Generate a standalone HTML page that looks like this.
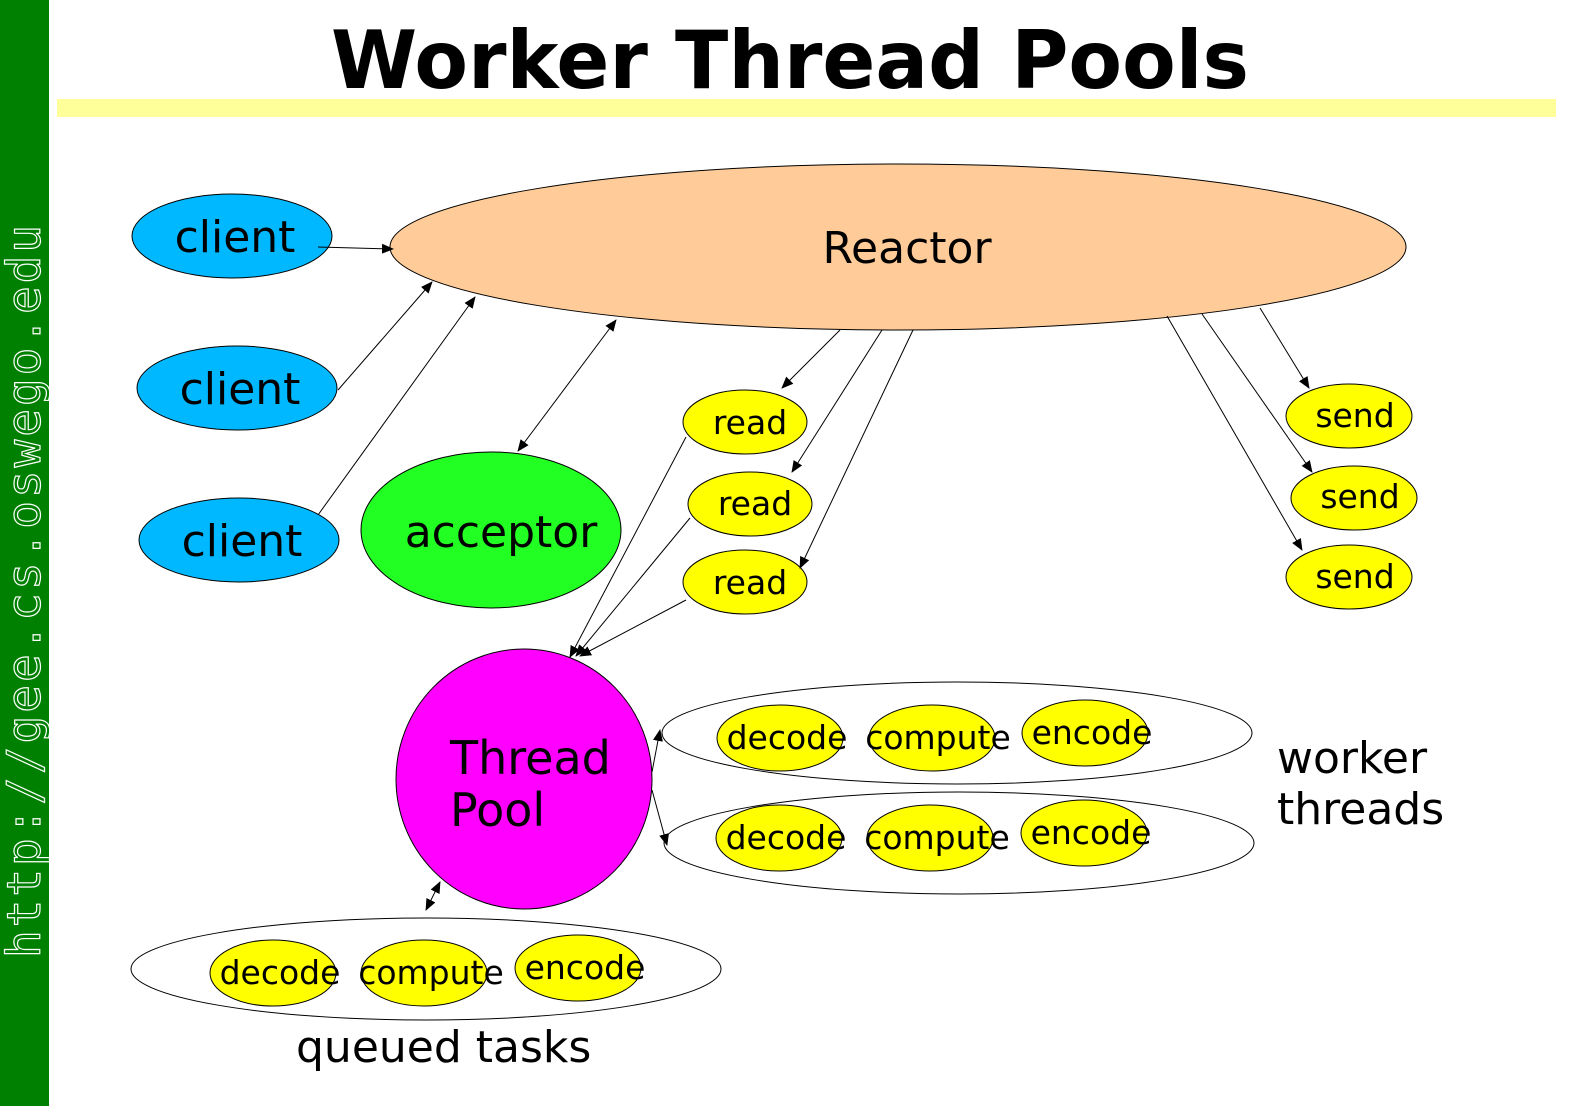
<!DOCTYPE html>
<html><head><style>body{margin:0;background:#fff}svg{display:block}</style></head><body>
<svg width="1576" height="1106" viewBox="0 0 1576 1106" xmlns="http://www.w3.org/2000/svg" font-family="DejaVu Sans, Liberation Sans, sans-serif">
<defs><marker id="a" markerWidth="12" markerHeight="10" refX="11" refY="5" orient="auto" markerUnits="userSpaceOnUse"><path d="M0,0L12,5L0,10z" fill="#000"/></marker>
<marker id="b" markerWidth="12" markerHeight="10" refX="1" refY="5" orient="auto" markerUnits="userSpaceOnUse"><path d="M12,0L0,5L12,10z" fill="#000"/></marker></defs>
<rect x="0" y="0" width="49" height="1106" fill="#008000"/>
<text transform="translate(40,958) rotate(-90)" font-family="DejaVu Sans Mono, Liberation Mono, monospace" font-size="46" fill="none" stroke="#fff" stroke-width="1.2" textLength="733" lengthAdjust="spacing">http://gee.cs.oswego.edu</text>
<text x="790" y="88" text-anchor="middle" font-size="80" font-weight="bold" textLength="918" lengthAdjust="spacingAndGlyphs">Worker Thread Pools</text>
<rect x="57" y="99" width="1499" height="18" fill="#ffff99"/>
<g stroke="#000" stroke-width="1">
<ellipse cx="898" cy="247" rx="508" ry="83" fill="#ffcc99"/>
<ellipse cx="232" cy="236" rx="100" ry="42" fill="#00b8ff"/>
<ellipse cx="237" cy="388" rx="100" ry="42" fill="#00b8ff"/>
<ellipse cx="239" cy="540" rx="100" ry="42" fill="#00b8ff"/>
<ellipse cx="491" cy="530" rx="130" ry="78" fill="#22ff22"/>
<ellipse cx="745" cy="422" rx="62" ry="32" fill="#ffff00"/>
<ellipse cx="750" cy="504" rx="62" ry="32" fill="#ffff00"/>
<ellipse cx="745" cy="582" rx="62" ry="32" fill="#ffff00"/>
<ellipse cx="1349" cy="416" rx="63" ry="32" fill="#ffff00"/>
<ellipse cx="1354" cy="498" rx="63" ry="32" fill="#ffff00"/>
<ellipse cx="1349" cy="577" rx="63" ry="32" fill="#ffff00"/>
<ellipse cx="524" cy="779" rx="128" ry="130" fill="#ff00ff"/>
<ellipse cx="957" cy="733" rx="295" ry="51" fill="none"/>
<ellipse cx="959" cy="843" rx="295" ry="51" fill="none"/>
<ellipse cx="426" cy="969" rx="295" ry="51" fill="none"/>
<g fill="#ffff00">
<ellipse cx="780" cy="738" rx="63" ry="33"/><ellipse cx="932" cy="738" rx="63" ry="33"/><ellipse cx="1085" cy="733" rx="63" ry="33"/>
<ellipse cx="779" cy="838" rx="63" ry="33"/><ellipse cx="930" cy="838" rx="63" ry="33"/><ellipse cx="1084" cy="833" rx="63" ry="33"/>
<ellipse cx="273" cy="973" rx="63" ry="33"/><ellipse cx="424" cy="973" rx="63" ry="33"/><ellipse cx="578" cy="968" rx="63" ry="33"/>
</g>
<g marker-end="url(#a)">
<line x1="318" y1="247" x2="393" y2="249"/>
<line x1="338" y1="390" x2="432" y2="282"/>
<line x1="318" y1="515" x2="475" y2="297"/>
<line x1="518" y1="451" x2="616" y2="320" marker-start="url(#b)"/>
<line x1="840" y1="330" x2="782" y2="388"/>
<line x1="882" y1="330" x2="792" y2="472"/>
<line x1="913" y1="330" x2="800" y2="568"/>
<line x1="686" y1="437" x2="570" y2="657"/>
<line x1="690" y1="518" x2="576" y2="656"/>
<line x1="686" y1="600" x2="580" y2="656"/>
<line x1="1260" y1="308" x2="1309" y2="388"/>
<line x1="1202" y1="314" x2="1312" y2="472"/>
<line x1="1167" y1="316" x2="1302" y2="550"/>
<line x1="652" y1="772" x2="660" y2="730"/>
<line x1="652" y1="790" x2="667" y2="845"/>
<line x1="440" y1="882" x2="426" y2="910" marker-start="url(#b)"/>
</g>
</g>
<g font-size="44" text-anchor="middle">
<text x="235" y="252">client</text><text x="240" y="404">client</text><text x="242" y="556">client</text>
<text x="907" y="263">Reactor</text><text x="501" y="547">acceptor</text>
</g>
<g font-size="33" text-anchor="middle">
<text x="750" y="434">read</text><text x="755" y="515">read</text><text x="750" y="594">read</text>
<text x="1355" y="427">send</text><text x="1360" y="508">send</text><text x="1355" y="588">send</text>
<text x="787" y="749">decode</text><text x="938" y="749">compute</text><text x="1092" y="744">encode</text>
<text x="786" y="849">decode</text><text x="937" y="849">compute</text><text x="1091" y="844">encode</text>
<text x="280" y="984">decode</text><text x="431" y="984">compute</text><text x="585" y="979">encode</text>
</g>
<g font-size="46">
<text x="450" y="774">Thread</text><text x="450" y="826">Pool</text>
</g>
<g font-size="44">
<text x="1277" y="773">worker</text><text x="1277" y="824">threads</text>
<text x="296" y="1062">queued tasks</text>
</g>
</svg>
</body></html>
